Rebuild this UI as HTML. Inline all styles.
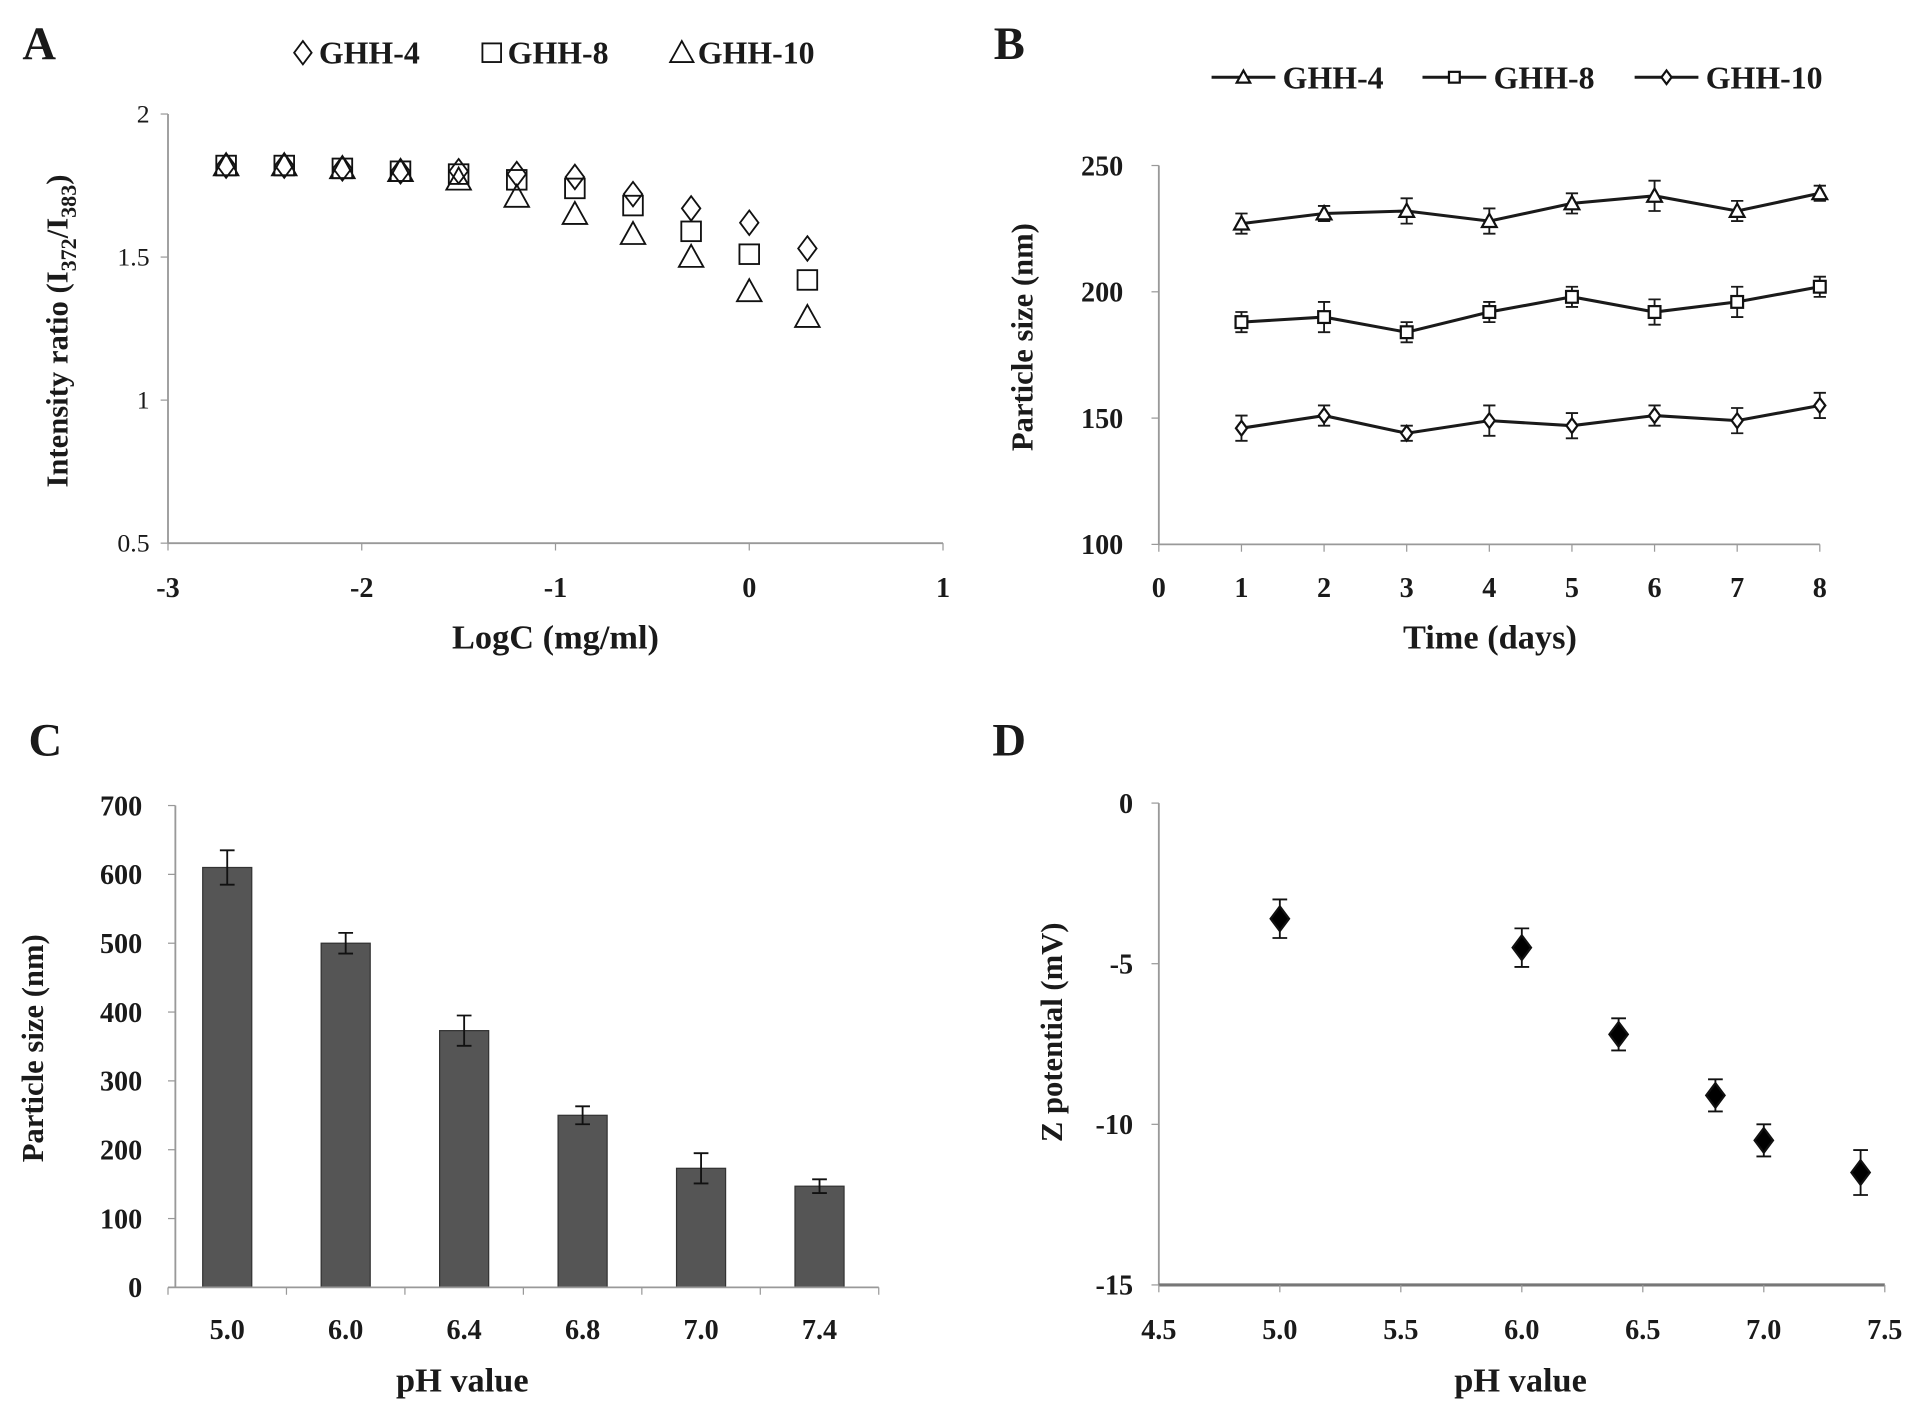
<!DOCTYPE html>
<html><head><meta charset="utf-8"><style>
html,body{margin:0;padding:0;background:#fff;}
svg{display:block;}
text{font-family:"Liberation Serif",serif;fill:#1a1a1a;}
.b{font-weight:bold;}
</style></head><body>
<svg id="s" width="1913" height="1410" viewBox="0 0 1560 1150" preserveAspectRatio="none" xmlns="http://www.w3.org/2000/svg"></svg>
<script>
// Panel A data
const aX = [-2.7,-2.4,-2.1,-1.8,-1.5,-1.2,-0.9,-0.6,-0.3,0,0.3];
const aG4 = [1.82,1.82,1.81,1.80,1.80,1.79,1.78,1.72,1.67,1.62,1.53];
const aG8 = [1.82,1.82,1.81,1.80,1.79,1.77,1.74,1.68,1.59,1.51,1.42];
const aG10 = [1.82,1.82,1.81,1.80,1.77,1.71,1.65,1.58,1.50,1.38,1.29];
const aXTicks = [-3,-2,-1,0,1];
const aYTicks = [0.5,1,1.5,2];
const aYLabels = ["0.5","1","1.5","2"];
// Panel B data
const bDays = [1,2,3,4,5,6,7,8];
const bG4 = [227,231,232,228,235,238,232,239];
const bG4Err = [4,3,5,5,4,6,4,3];
const bG8 = [188,190,184,192,198,192,196,202];
const bG8Err = [4,6,4,4,4,5,6,4];
const bG10 = [146,151,144,149,147,151,149,155];
const bG10Err = [5,4,3,6,5,4,5,5];
const bXTicks = [0,1,2,3,4,5,6,7,8];
const bYTicks = [100,150,200,250];
// Panel C data
const cCats = ["5.0","6.0","6.4","6.8","7.0","7.4"];
const cVals = [610,500,373,250,173,147];
const cErr = [25,15,22,13,22,10];
const cYTicks = [0,100,200,300,400,500,600,700];
// Panel D data
const dPH = [5.0,6.0,6.4,6.8,7.0,7.4];
const dZ = [-3.6,-4.5,-7.2,-9.1,-10.5,-11.5];
const dErr = [0.6,0.6,0.5,0.5,0.5,0.7];
const dXTicks = [4.5,5.0,5.5,6.0,6.5,7.0,7.5];
const dXLabels = ["4.5","5.0","5.5","6.0","6.5","7.0","7.5"];
const dYTicks = [0,-5,-10,-15];

const S = document.getElementById('s');
const NS = 'http://www.w3.org/2000/svg';
function el(tag, attrs, parent){const e=document.createElementNS(NS,tag);for(const k in attrs)e.setAttribute(k,attrs[k]);(parent||S).appendChild(e);return e;}
function txt(x,y,s,size,anchor,bold,parent){const t=el('text',{x:x,y:y,'font-size':size,'text-anchor':anchor||'middle'},parent);if(bold)t.setAttribute('class','b');t.textContent=s;return t;}
function lin(a,b){return v=>a[2]+(v-a[0])*(b[2]-a[2])/(b[0]-a[0]);}
const AX='#999';
function marker(type,x,y,r,fill,parent){
  let e;
  if(type==='diamond') e=el('polygon',{points:`${x},${y-r} ${x+r*0.75},${y} ${x},${y+r} ${x-r*0.75},${y}`},parent);
  else if(type==='square') e=el('rect',{x:x-r*0.8,y:y-r*0.8,width:r*1.6,height:r*1.6},parent);
  else e=el('polygon',{points:`${x},${y-r} ${x+r},${y+r*0.8} ${x-r},${y+r*0.8}`},parent);
  e.setAttribute('fill',fill);e.setAttribute('stroke','#111');e.setAttribute('stroke-width',1.8);
  return e;
}

// ---------- Panel A ----------
(function(){
  const g=el('g',{});
  
  
  const X=lin([-3,0,137],[1,0,769]), Y=lin([0.5,0,443],[2,0,93]);
  txt(32,48,'A',38,'middle',true,g);
  el('line',{x1:137,y1:93,x2:137,y2:443,stroke:AX,'stroke-width':1.5},g);
  el('line',{x1:137,y1:443,x2:769,y2:443,stroke:AX,'stroke-width':1.5},g);
  aYTicks.forEach((v,i)=>{el('line',{x1:131,y1:Y(v),x2:137,y2:Y(v),stroke:AX},g);
    const t=txt(122,Y(v)+7,aYLabels[i],21,'end',false,g);});
  aXTicks.forEach(v=>{el('line',{x1:X(v),y1:443,x2:X(v),y2:449,stroke:AX},g);
    const t=txt(X(v),487,String(v),23,'middle',true,g);});
  const xt=txt(453,529,'LogC (mg/ml)',28,'middle',true,g);
  const yt=el('text',{x:0,y:0,'font-size':25,'text-anchor':'middle',class:'b',transform:'translate(55,270) rotate(-90)'},g);
  
  yt.innerHTML='Intensity ratio (I<tspan font-size="18" dy="7">372</tspan><tspan dy="-7">/I</tspan><tspan font-size="18" dy="7">383</tspan><tspan dy="-7">)</tspan>';
  const series=[[aG4,'diamond'],[aG8,'square'],[aG10,'triangle']];
  series.forEach(([vals,type])=>{aX.forEach((x,i)=>{const m=marker(type,X(x),Y(vals[i]),10,'none',g);m.setAttribute('stroke-width',1.5);
    });});
  const leg=[[247,'diamond','GHH-4'],[401,'square','GHH-8'],[556,'triangle','GHH-10']];
  leg.forEach(([x,t,l])=>{const m=marker(t,x,43,9.5,'none',g);m.setAttribute('stroke-width',1.5);
    const tt=txt(x+13,52,l,26,'start',true,g);});
})();

// ---------- Panel B ----------
(function(){
  const g=el('g',{});
  
  
  const X=lin([0,0,945],[8,0,1484]), Y=lin([100,0,444],[250,0,135]);
  txt(823,48,'B',38,'middle',true,g);
  el('line',{x1:945,y1:135,x2:945,y2:444,stroke:AX,'stroke-width':1.5},g);
  el('line',{x1:945,y1:444,x2:1484,y2:444,stroke:AX,'stroke-width':1.5},g);
  bYTicks.forEach(v=>{el('line',{x1:939,y1:Y(v),x2:945,y2:Y(v),stroke:AX},g);
    const t=txt(916,Y(v)+8,String(v),23,'end',true,g);});
  bXTicks.forEach(v=>{el('line',{x1:X(v),y1:444,x2:X(v),y2:450,stroke:AX},g);
    const t=txt(X(v),487,String(v),23,'middle',true,g);});
  txt(1215,529,'Time (days)',28,'middle',true,g);
  const yt=el('text',{'font-size':25,'text-anchor':'middle',class:'b',transform:'translate(842,275) rotate(-90)'},g);
  yt.textContent='Particle size (nm)';
  
  const series=[[bG4,bG4Err,'triangle'],[bG8,bG8Err,'square'],[bG10,bG10Err,'diamond']];
  series.forEach(([vals,err,type])=>{
    const pts=bDays.map((d,i)=>X(d)+','+Y(vals[i])).join(' ');
    const pl=el('polyline',{points:pts,fill:'none',stroke:'#1a1a1a','stroke-width':2.5},g);
    
    bDays.forEach((d,i)=>{const x=X(d),y1=Y(vals[i]+err[i]),y2=Y(vals[i]-err[i]);
      el('path',{d:`M${x},${y1}V${y2}M${x-5},${y1}H${x+5}M${x-5},${y2}H${x+5}`,stroke:'#1a1a1a','stroke-width':1.5,fill:'none'},g);
      const m=marker(type,x,Y(vals[i]),6,'#fff',g);});
  });
  const leg=[[988,'triangle','GHH-4'],[1160,'square','GHH-8'],[1333,'diamond','GHH-10']];
  leg.forEach(([x,t,l])=>{el('line',{x1:x,y1:63,x2:x+52,y2:63,stroke:'#1a1a1a','stroke-width':2.5},g);
    marker(t,x+26,63,5.5,'#fff',g);
    const tt=txt(x+58,72,l,26,'start',true,g);});
})();

// ---------- Panel C ----------
(function(){
  const g=el('g',{});
  
  
  const Y=lin([0,0,1050],[700,0,657]);
  const x0=137, step=96.6, bw=40;
  const X=i=>x0+step*(i+0.5);
  txt(37,616,'C',38,'middle',true,g);
  el('line',{x1:143,y1:657,x2:143,y2:1050,stroke:AX,'stroke-width':1.5},g);
  cYTicks.forEach(v=>{el('line',{x1:137,y1:Y(v),x2:143,y2:Y(v),stroke:AX},g);
    const t=txt(116,Y(v)+8,String(v),23,'end',true,g);});
  cCats.forEach((c,i)=>{
    const v=cVals[i],x=X(i);
    const r=el('rect',{x:x-bw/2,y:Y(v),width:bw,height:Y(0)-Y(v),fill:'#555',stroke:'#333','stroke-width':1},g);
    
    const y1=Y(v+cErr[i]),y2=Y(v-cErr[i]);
    el('path',{d:`M${x},${y1}V${y2}M${x-6},${y1}H${x+6}M${x-6},${y2}H${x+6}`,stroke:'#111','stroke-width':1.5,fill:'none'},g);
    const t=txt(x,1092,c,23,'middle',true,g);
  });
  el('line',{x1:137,y1:1050,x2:137+step*6,y2:1050,stroke:AX,'stroke-width':1.5},g);
  for(let i=0;i<=6;i++){el('line',{x1:x0+step*i,y1:1050,x2:x0+step*i,y2:1056,stroke:AX},g);}
  txt(377,1135,'pH value',28,'middle',true,g);
  const yt=el('text',{'font-size':25,'text-anchor':'middle',class:'b',transform:'translate(35,855) rotate(-90)'},g);
  yt.textContent='Particle size (nm)';
  
})();

// ---------- Panel D ----------
(function(){
  const g=el('g',{});
  
  
  const X=lin([4.5,0,945],[7.5,0,1537]), Y=lin([0,0,655],[-15,0,1048]);
  txt(823,616,'D',38,'middle',true,g);
  el('line',{x1:945,y1:655,x2:945,y2:1048,stroke:AX,'stroke-width':1.5},g);
  el('line',{x1:945,y1:1048,x2:1537,y2:1048,stroke:'#777','stroke-width':2.5},g);
  dYTicks.forEach(v=>{el('line',{x1:939,y1:Y(v),x2:945,y2:Y(v),stroke:AX},g);
    const t=txt(924,Y(v)+8,String(v),23,'end',true,g);});
  dXTicks.forEach((v,i)=>{el('line',{x1:X(v),y1:1048,x2:X(v),y2:1054,stroke:AX},g);
    const t=txt(X(v),1092,dXLabels[i],23,'middle',true,g);});
  txt(1240,1135,'pH value',28,'middle',true,g);
  const yt=el('text',{'font-size':25,'text-anchor':'middle',class:'b',transform:'translate(866,842) rotate(-90)'},g);
  yt.textContent='Z potential (mV)';
  
  dPH.forEach((p,i)=>{const x=X(p),y=Y(dZ[i]),y1=Y(dZ[i]+dErr[i]),y2=Y(dZ[i]-dErr[i]);
    el('path',{d:`M${x},${y1}V${y2}M${x-6},${y1}H${x+6}M${x-6},${y2}H${x+6}`,stroke:'#111','stroke-width':1.5,fill:'none'},g);
    const m=marker('diamond',x,y,10,'#000',g);});
})();
</script>
</body></html>
